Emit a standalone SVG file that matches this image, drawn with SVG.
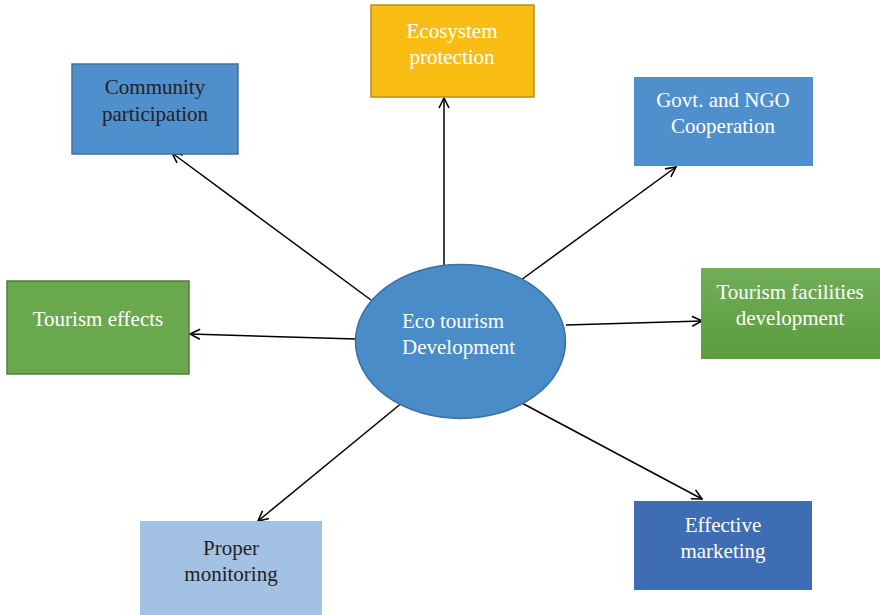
<svg xmlns="http://www.w3.org/2000/svg" width="880" height="615" viewBox="0 0 880 615">
  <style>
    .lbl { font-family: "Liberation Serif", "Times New Roman", serif; font-size: 21px; text-anchor: middle; }
    .light { fill: #ffffff; }
    .dark { fill: #222222; }
    .conn { stroke: #000000; stroke-width: 1.5; fill: none; marker-end: url(#arrow); }
  </style>
  <defs>
    <marker id="arrow" viewBox="0 0 12 12" refX="11" refY="6" markerWidth="12" markerHeight="12" markerUnits="userSpaceOnUse" orient="auto">
      <path d="M1,1 L11,6 L1,11" fill="none" stroke="#000000" stroke-width="1.6"/>
    </marker>
    <linearGradient id="greenGrad" x1="0" y1="0" x2="0" y2="1">
      <stop offset="0" stop-color="#6fae58"/>
      <stop offset="1" stop-color="#5c9c3d"/>
    </linearGradient>
  </defs>

  <rect width="880" height="615" fill="#ffffff"/>

  <!-- connectors from the hub to each outer box -->
  <g id="connectors">
    <line class="conn" x1="371" y1="300" x2="172" y2="153"/>
    <line class="conn" x1="444" y1="266" x2="444" y2="98"/>
    <line class="conn" x1="521" y1="280" x2="676" y2="167"/>
    <line class="conn" x1="356" y1="339" x2="190" y2="334"/>
    <line class="conn" x1="566" y1="325" x2="702" y2="321"/>
    <line class="conn" x1="403" y1="402" x2="258" y2="521"/>
    <line class="conn" x1="520" y1="402" x2="702" y2="499"/>
  </g>

  <g id="hub">
    <ellipse cx="460.5" cy="341.5" rx="105" ry="77" fill="#4a8cc8" stroke="#3a70a2" stroke-width="1.5"/>
    <text class="lbl light" x="402" y="328" style="text-anchor:start">Eco tourism</text>
    <text class="lbl light" x="402" y="354" style="text-anchor:start">Development</text>
  </g>

  <g id="community">
    <rect x="72" y="64" width="166" height="90" fill="#4f8fcc" stroke="#41719c" stroke-width="1.5"/>
    <text class="lbl dark" x="155" y="94">Community</text>
    <text class="lbl dark" x="155" y="121">participation</text>
  </g>

  <g id="ecosystem">
    <rect x="371" y="5" width="163" height="92" fill="#f9bd14" stroke="#b8901e" stroke-width="1.5"/>
    <text class="lbl light" x="452" y="38">Ecosystem</text>
    <text class="lbl light" x="452" y="64">protection</text>
  </g>

  <g id="govt">
    <rect x="634" y="77" width="179" height="89" fill="#4f90cc"/>
    <text class="lbl light" x="723" y="107">Govt. and NGO</text>
    <text class="lbl light" x="723" y="133">Cooperation</text>
  </g>

  <g id="effects">
    <rect x="7" y="281" width="182" height="93" fill="#6aa84e" stroke="#4f7f3a" stroke-width="1.5"/>
    <text class="lbl light" x="98" y="326">Tourism effects</text>
  </g>

  <g id="facilities">
    <rect x="701" y="268" width="179" height="91" fill="url(#greenGrad)"/>
    <text class="lbl light" x="790" y="299">Tourism facilities</text>
    <text class="lbl light" x="790" y="325">development</text>
  </g>

  <g id="monitoring">
    <rect x="140" y="521" width="182" height="94" fill="#a3c2e3"/>
    <text class="lbl dark" x="231" y="555">Proper</text>
    <text class="lbl dark" x="231" y="581">monitoring</text>
  </g>

  <g id="marketing">
    <rect x="634" y="501" width="178" height="89" fill="#3f6db3"/>
    <text class="lbl light" x="723" y="532">Effective</text>
    <text class="lbl light" x="723" y="558">marketing</text>
  </g>
</svg>
